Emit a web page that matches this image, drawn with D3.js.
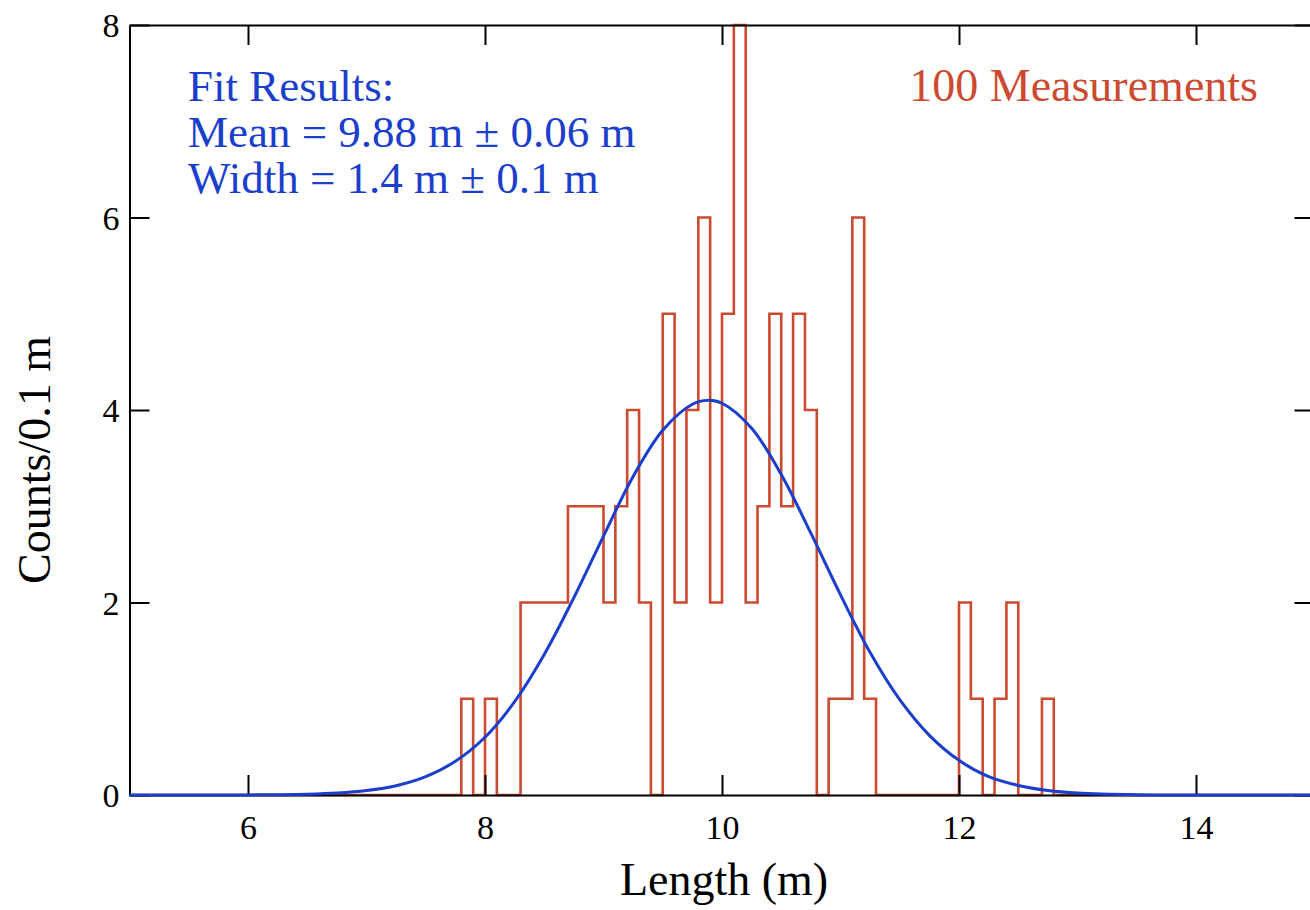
<!DOCTYPE html>
<html>
<head>
<meta charset="UTF-8">
<script src="https://d3js.org/d3.v7.min.js"></script>
<title>Length histogram</title>
<style>
  body { margin: 0; background: #fff; }
  svg text { font-family: "Liberation Serif", "Times New Roman", serif; }
</style>
</head>
<body>
<svg width="1310" height="910"></svg>
<script>
// histogram, 0.1 m bins (lower edge of each bin, counts)
const binStarts = [7.8, 7.9, 8.0, 8.1, 8.2, 8.3, 8.4, 8.5, 8.6, 8.7,
                   8.8, 8.9, 9.0, 9.1, 9.2, 9.3, 9.4, 9.5, 9.6, 9.7,
                   9.8, 9.9, 10.0, 10.1, 10.2, 10.3, 10.4, 10.5, 10.6, 10.7,
                   10.8, 10.9, 11.0, 11.1, 11.2, 11.3, 11.4, 11.5, 11.6, 11.7,
                   11.8, 11.9, 12.0, 12.1, 12.2, 12.3, 12.4, 12.5, 12.6, 12.7];
const counts    = [1, 0, 1, 0, 0, 2, 2, 2, 2, 3,
                   3, 3, 2, 3, 4, 2, 0, 5, 2, 4,
                   6, 2, 5, 8, 2, 3, 5, 3, 5, 4,
                   0, 1, 1, 6, 1, 0, 0, 0, 0, 0,
                   0, 0, 2, 1, 0, 1, 2, 0, 0, 1];
const binWidth = 0.1;

// fitted gaussian
const fitX = [5, 6, 6.25, 6.5, 6.75, 7, 7.25, 7.5, 7.75, 8, 8.25, 8.5, 8.75, 9, 9.25, 9.5, 9.75,
              9.88, 10, 10.25, 10.5, 10.75, 11, 11.25, 11.5, 11.75, 12, 12.25, 12.5, 12.75, 13, 13.5, 14, 15];
const fitY = [0, 0.001, 0.003, 0.008, 0.02, 0.046, 0.096, 0.19, 0.35, 0.6, 0.97, 1.46, 2.05, 2.69, 3.31, 3.79, 4.06,
              4.1, 4.07, 3.81, 3.33, 2.72, 2.08, 1.48, 0.99, 0.62, 0.36, 0.19, 0.099, 0.047, 0.021, 0.003, 0, 0];

const xTicks = [6, 8, 10, 12, 14];
const yTicks = [0, 2, 4, 6, 8];
const fitLines = ["Fit Results:", "Mean = 9.88 m \u00b1 0.06 m", "Width = 1.4 m \u00b1 0.1 m"];

const red = "#cc4a2f", blue = "#1b3fcc";
const svg = d3.select("svg");
const x = d3.scaleLinear().domain([5, 15]).range([129.5, 1314.5]);
const y = d3.scaleLinear().domain([0, 8]).range([795, 25]);

// histogram outline as a step line
const steps = [{x: 5, c: 0}]
  .concat(binStarts.map((b, i) => ({x: b, c: counts[i]})))
  .concat([{x: binStarts[binStarts.length - 1] + binWidth, c: 0}, {x: 15, c: 0}]);

svg.append("path")
  .datum(steps)
  .attr("fill", "none")
  .attr("stroke", red)
  .attr("stroke-width", 2.6)
  .attr("d", d3.line().x(d => x(d.x)).y(d => y(d.c)).curve(d3.curveStepAfter));

// axes with inward ticks
const axBottom = svg.append("g").attr("transform", `translate(0,${y(0)})`)
  .call(d3.axisBottom(x).tickValues(xTicks).tickSizeInner(-20).tickSizeOuter(0));
const axTop = svg.append("g").attr("transform", `translate(0,${y(8)})`)
  .call(d3.axisTop(x).tickValues(xTicks).tickSizeInner(-20).tickSizeOuter(0).tickFormat(""));
const axLeft = svg.append("g").attr("transform", `translate(${x(5)},0)`)
  .call(d3.axisLeft(y).tickValues(yTicks).tickSizeInner(-20).tickSizeOuter(0));
const axRight = svg.append("g").attr("transform", `translate(${x(15)},0)`)
  .call(d3.axisRight(y).tickValues(yTicks).tickSizeInner(-20).tickSizeOuter(0).tickFormat(""));

[axBottom, axTop, axLeft, axRight].forEach(g => {
  g.attr("font-size", 34).attr("font-family", "Liberation Serif, serif");
  g.select(".domain").attr("stroke", "#000").attr("stroke-width", 2);
  g.selectAll(".tick line").attr("stroke", "#000").attr("stroke-width", 2);
  g.selectAll(".tick text").attr("fill", "#000");
});
// label placement
axBottom.selectAll(".tick text").attr("y", 20).attr("dy", "0.71em");
axLeft.selectAll(".tick text").attr("x", -10).attr("dy", "0.34em");

// gaussian fit
svg.append("path")
  .datum(fitX.map((v, i) => [v, fitY[i]]))
  .attr("fill", "none")
  .attr("stroke", blue)
  .attr("stroke-width", 3)
  .attr("d", d3.line().x(d => x(d[0])).y(d => y(d[1])).curve(d3.curveCatmullRom));

// labels
svg.append("text")
  .attr("x", 724).attr("y", 895)
  .attr("text-anchor", "middle")
  .style("font-size", "46px")
  .text("Length (m)");

svg.append("text")
  .attr("transform", "translate(50,460) rotate(-90)")
  .attr("text-anchor", "middle")
  .style("font-size", "46px")
  .text("Counts/0.1 m");

svg.append("g").selectAll("text")
  .data(fitLines)
  .join("text")
  .attr("x", 188)
  .attr("y", (d, i) => 101 + i * 46)
  .attr("fill", blue)
  .style("font-size", "45px")
  .text(d => d);

svg.append("text")
  .attr("x", 1258).attr("y", 101)
  .attr("text-anchor", "end")
  .attr("fill", red)
  .style("font-size", "46px")
  .text("100 Measurements");
</script>
</body>
</html>
